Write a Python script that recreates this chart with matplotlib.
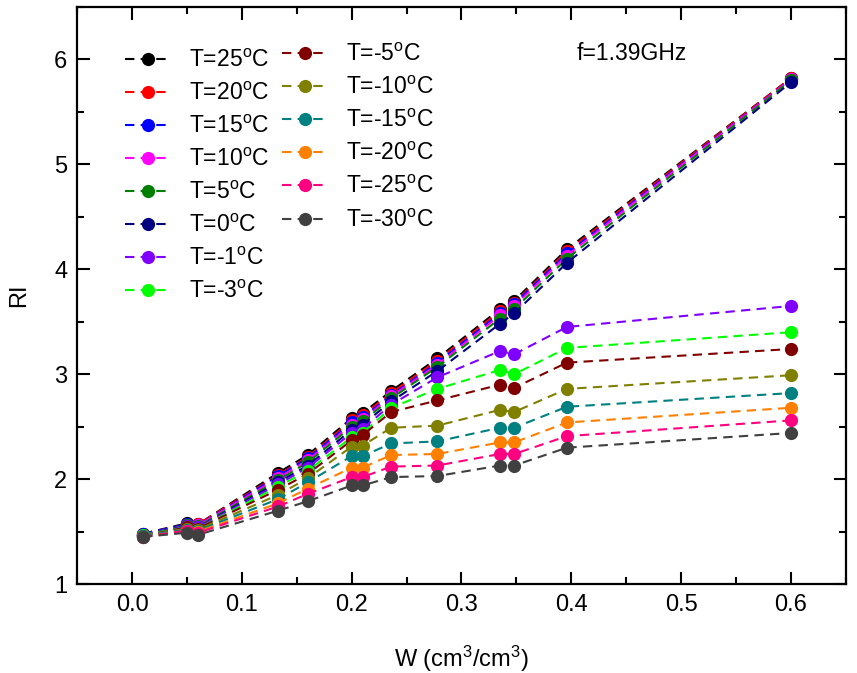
import matplotlib
matplotlib.use("Agg")
import matplotlib.pyplot as plt
from matplotlib.ticker import MultipleLocator

plt.rcParams['font.family'] = ['Liberation Sans', 'DejaVu Sans']
plt.rcParams['mathtext.fontset'] = 'custom'
plt.rcParams['mathtext.rm'] = 'Liberation Sans'
plt.rcParams['mathtext.it'] = 'Liberation Sans:italic'

# water content W (cm3/cm3)
w = [0.01, 0.05, 0.06, 0.133, 0.16, 0.2, 0.21, 0.236, 0.278, 0.335, 0.348, 0.396, 0.6]

temps = [25, 20, 15, 10, 5, 0, -1, -3, -5, -10, -15, -20, -25, -30]
colors = ['#000000', '#ff0000', '#0000ff', '#ff00ff', '#008000', '#000080', '#8000ff',
          '#00ff00', '#800000', '#808000', '#008080', '#ff8000', '#ff0080', '#404040']

ri = [
    [1.48, 1.58, 1.57, 2.06, 2.23, 2.58, 2.63, 2.84, 3.15, 3.62, 3.70, 4.19, 5.82],
    [1.48, 1.57, 1.57, 2.04, 2.21, 2.56, 2.61, 2.82, 3.13, 3.60, 3.68, 4.17, 5.82],
    [1.48, 1.57, 1.56, 2.03, 2.20, 2.54, 2.59, 2.80, 3.11, 3.58, 3.67, 4.15, 5.81],
    [1.47, 1.56, 1.56, 2.01, 2.18, 2.52, 2.57, 2.79, 3.09, 3.56, 3.65, 4.13, 5.81],
    [1.47, 1.56, 1.55, 1.99, 2.16, 2.50, 2.55, 2.77, 3.07, 3.53, 3.62, 4.10, 5.80],
    [1.47, 1.55, 1.54, 1.97, 2.13, 2.47, 2.52, 2.74, 3.03, 3.48, 3.58, 4.06, 5.78],
    [1.47, 1.55, 1.54, 1.95, 2.11, 2.44, 2.48, 2.71, 2.97, 3.22, 3.19, 3.45, 3.65],
    [1.47, 1.54, 1.53, 1.93, 2.08, 2.40, 2.44, 2.68, 2.86, 3.04, 3.00, 3.25, 3.40],
    [1.46, 1.54, 1.53, 1.90, 2.05, 2.37, 2.42, 2.64, 2.75, 2.90, 2.87, 3.11, 3.24],
    [1.46, 1.53, 1.52, 1.85, 2.01, 2.31, 2.32, 2.49, 2.51, 2.66, 2.64, 2.86, 2.99],
    [1.46, 1.52, 1.51, 1.81, 1.97, 2.22, 2.22, 2.34, 2.36, 2.49, 2.49, 2.69, 2.82],
    [1.45, 1.51, 1.50, 1.77, 1.91, 2.11, 2.11, 2.23, 2.24, 2.35, 2.35, 2.54, 2.68],
    [1.45, 1.51, 1.49, 1.74, 1.86, 2.02, 2.02, 2.12, 2.13, 2.24, 2.24, 2.41, 2.56],
    [1.45, 1.49, 1.47, 1.70, 1.79, 1.94, 1.94, 2.02, 2.03, 2.13, 2.13, 2.30, 2.44],
]

fig = plt.figure(figsize=(8.57, 6.73), dpi=100)
ax = fig.add_axes([0.09, 0.132, 0.897, 0.858])

lines = []
for t, c, y in zip(temps, colors, ri):
    ln, = ax.plot(w, y, linestyle=(0, (4.5, 3)), linewidth=1.5, color=c,
                  marker='o', markersize=9.5, markeredgewidth=0,
                  label=r'T=%d$^\mathrm{o}$C' % t)
    lines.append(ln)

ax.set_xlim(-0.05, 0.65)
ax.set_ylim(1, 6.5)
ax.xaxis.set_minor_locator(MultipleLocator(0.05))
ax.yaxis.set_minor_locator(MultipleLocator(0.5))
ax.set_xticks([0.0, 0.1, 0.2, 0.3, 0.4, 0.5, 0.6])
ax.set_xticklabels(['0.0', '0.1', '0.2', '0.3', '0.4', '0.5', '0.6'])
ax.set_yticks([1, 2, 3, 4, 5, 6])
ax.tick_params(which='both', direction='in', top=True, right=True, width=1.5, labelsize=17, pad=7)
ax.tick_params(which='major', length=9)
ax.tick_params(which='minor', length=5)
for s in ax.spines.values():
    s.set_linewidth(1.6)

ax.set_xlabel(r'W (cm$^3$/cm$^3$)', fontsize=17, labelpad=20)
ax.set_ylabel('RI', fontsize=17, labelpad=17)

ax.text(0.405, 6.05, 'f=1.39GHz', fontsize=16.5, va='center', ha='left')

leg_kw = dict(loc='upper left', frameon=False, fontsize=16.5, handlelength=2.0,
              handletextpad=0.8, labelspacing=0.44, borderaxespad=0, borderpad=0)
leg1 = ax.legend(handles=lines[:8], bbox_to_anchor=(0.062, 0.927), **leg_kw)
ax.add_artist(leg1)
ax.legend(handles=lines[8:], bbox_to_anchor=(0.266, 0.937), **leg_kw)

fig.savefig('out.png', dpi=100)
